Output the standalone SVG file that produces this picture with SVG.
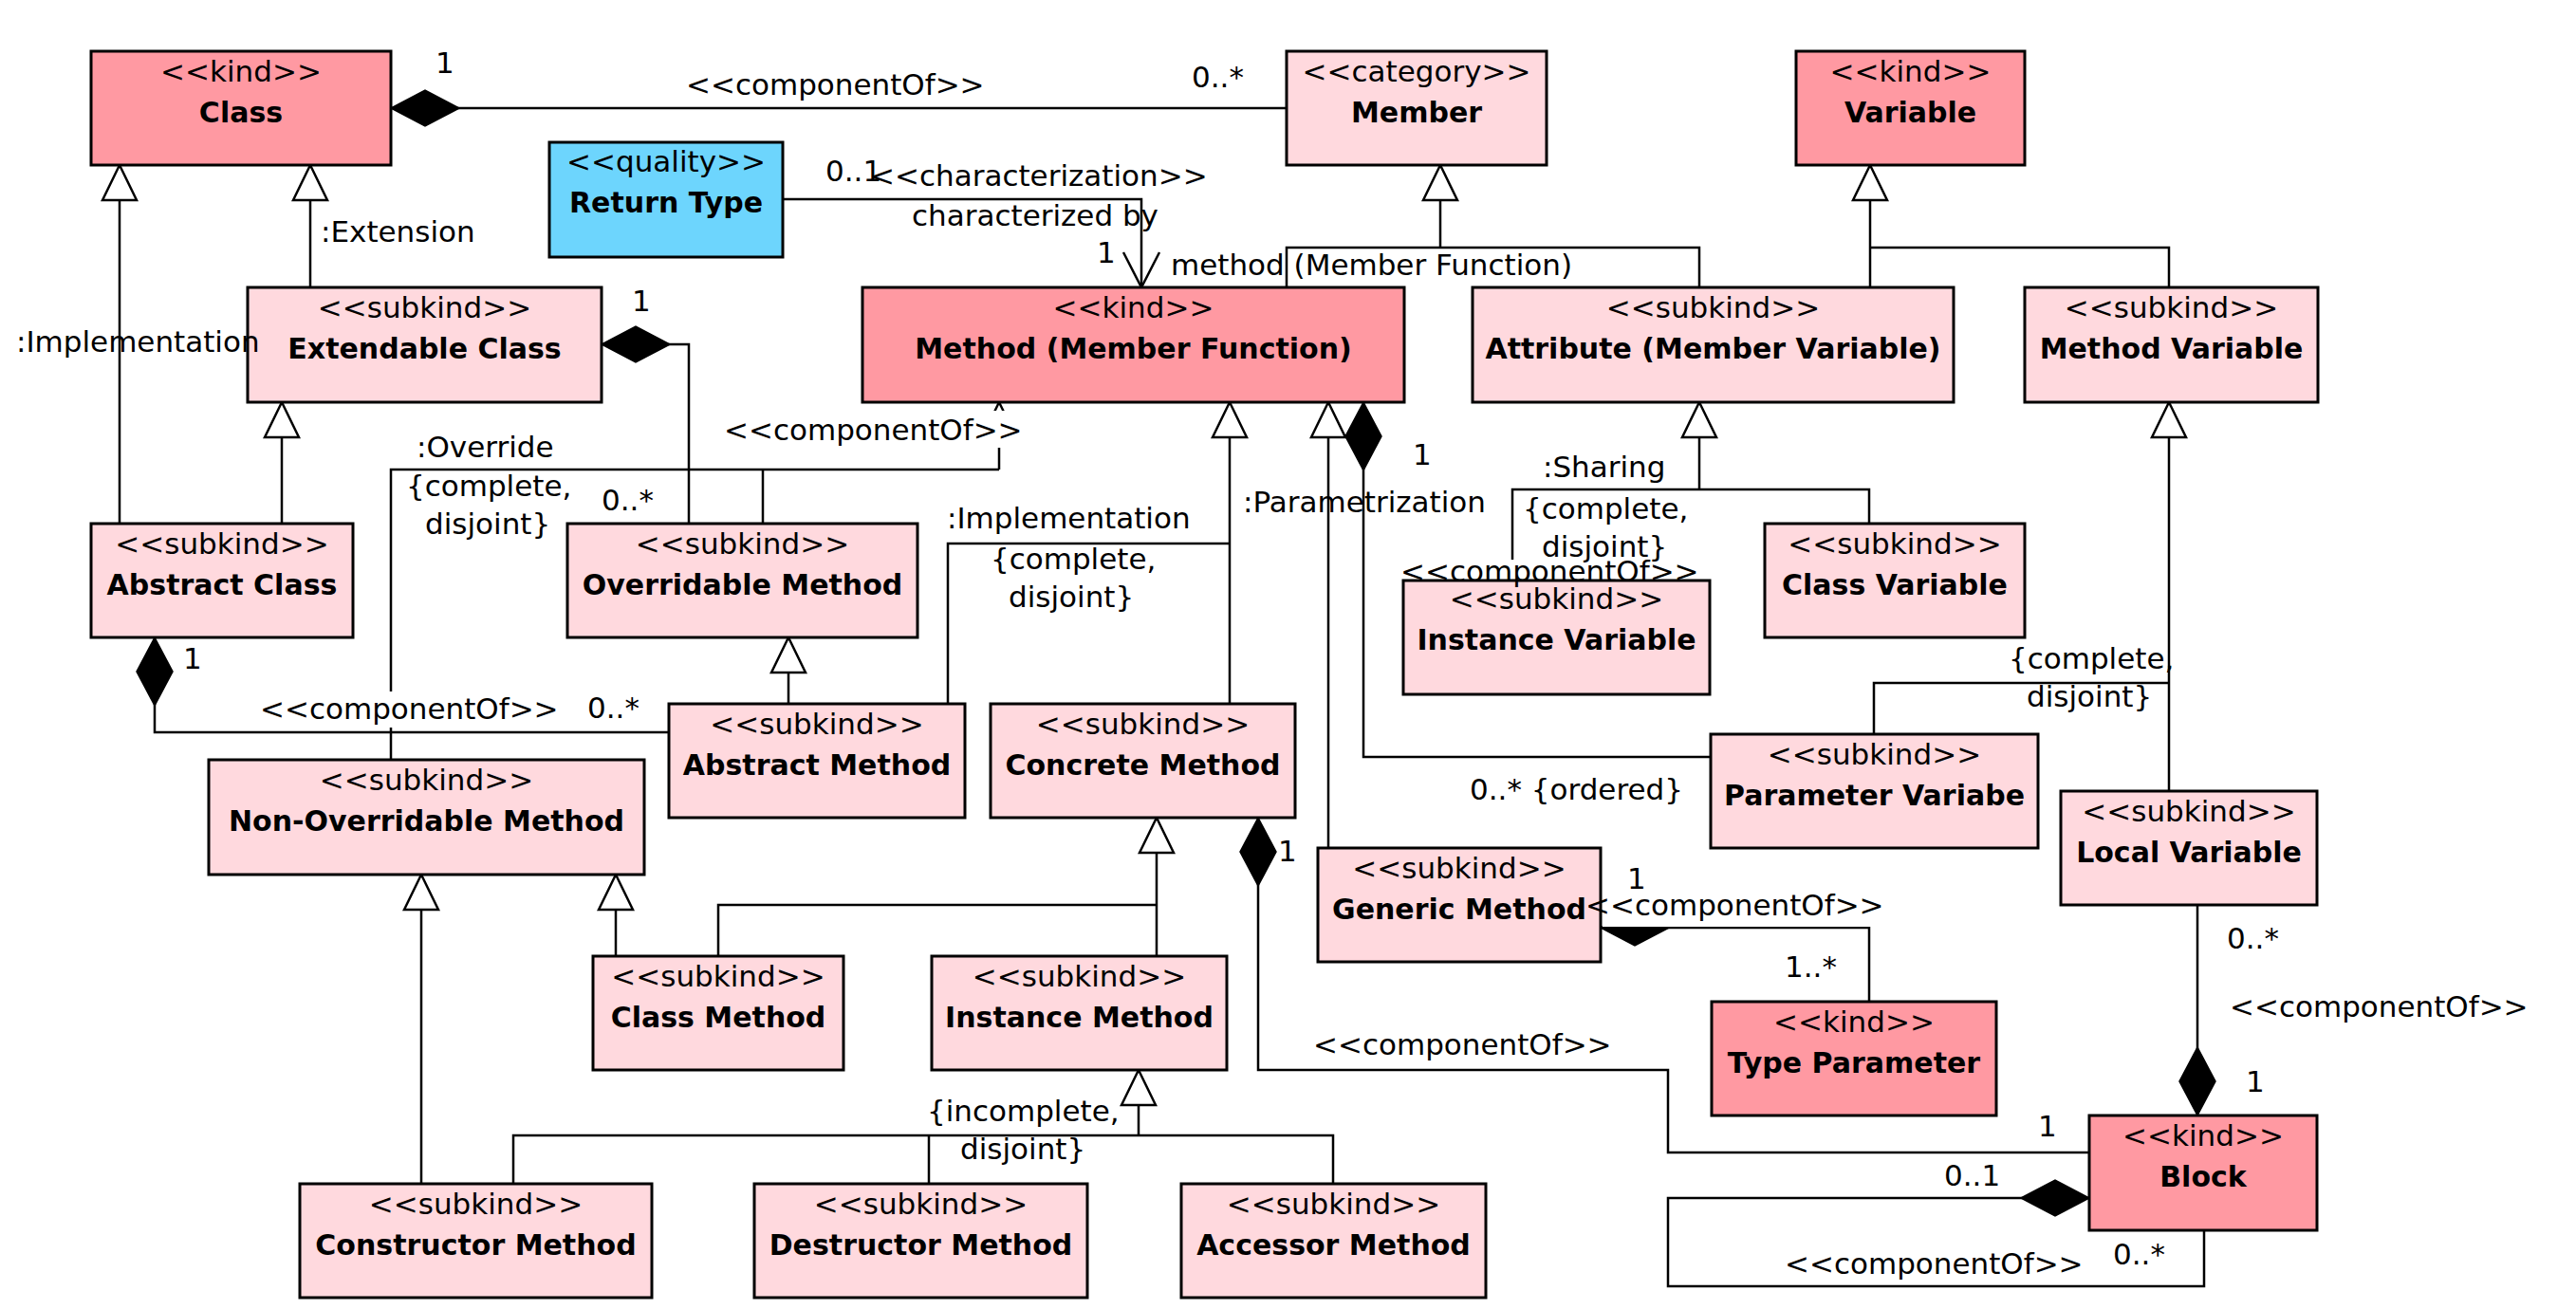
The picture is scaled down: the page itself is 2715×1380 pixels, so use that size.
<svg xmlns="http://www.w3.org/2000/svg" width="2715" height="1380" viewBox="0 0 2715 1380">
<style>
.box{stroke:#000;stroke-width:3}
.kind{fill:#ff99a2}
.sub{fill:#ffd9de}
.qual{fill:#6dd5fd}
.st{font-family:"DejaVu Sans","Liberation Sans",sans-serif;font-size:31px;text-anchor:middle;fill:#000}
.nm{font-family:"DejaVu Sans","Liberation Sans",sans-serif;font-size:30px;font-weight:bold;text-anchor:middle;fill:#000}
.lb{font-family:"DejaVu Sans","Liberation Sans",sans-serif;font-size:31px;fill:#000}
.c{fill:none;stroke:#000;stroke-width:2.5}
.bg{fill:#fff}
</style>
<defs>
<marker id="tri" markerUnits="userSpaceOnUse" markerWidth="40" markerHeight="40" refX="37" refY="0" orient="auto" overflow="visible">
<path d="M0,-18 L37,0 L0,18 Z" fill="#fff" stroke="#000" stroke-width="2.5"/>
</marker>
<marker id="dia" markerUnits="userSpaceOnUse" markerWidth="75" markerHeight="40" refX="72" refY="0" orient="auto" overflow="visible">
<path d="M0,0 L36,-19 L72,0 L36,19 Z" fill="#000" stroke="#000" stroke-width="1.5"/>
</marker>
<marker id="open" markerUnits="userSpaceOnUse" markerWidth="40" markerHeight="40" refX="37" refY="0" orient="auto" overflow="visible">
<path d="M0,-19 L37,0 L0,19" fill="none" stroke="#000" stroke-width="2.5"/>
</marker>
</defs>
<rect width="2715" height="1380" fill="#fff"/>
<g id="connectors">
<path class="c" d="M126,552 V174" marker-end="url(#tri)"/>
<path class="c" d="M327,303 V174" marker-end="url(#tri)"/>
<path class="c" d="M297,552 V424" marker-end="url(#tri)"/>
<path class="c" d="M1518,261 V174" marker-end="url(#tri)"/>
<path class="c" d="M1356,303 V261 H1791 V303"/>
<path class="c" d="M1971,303 V174" marker-end="url(#tri)"/>
<path class="c" d="M1971,261 H2286 V303"/>
<path class="c" d="M1053,495 V424" marker-end="url(#tri)"/>
<path class="c" d="M412,801 V495 H1053"/>
<path class="c" d="M804,495 V552"/>
<path class="c" d="M1296,742 V424" marker-end="url(#tri)"/>
<path class="c" d="M999,742 V573 H1296"/>
<path class="c" d="M1400,894 V424" marker-end="url(#tri)"/>
<path class="c" d="M831,742 V672" marker-end="url(#tri)"/>
<path class="c" d="M1791,516 V424" marker-end="url(#tri)"/>
<path class="c" d="M1594,590 V516 H1970 V552"/>
<path class="c" d="M2286,834 V424" marker-end="url(#tri)"/>
<path class="c" d="M1975,774 V720 H2286"/>
<path class="c" d="M444,1248 V922" marker-end="url(#tri)"/>
<path class="c" d="M649,1008 V922" marker-end="url(#tri)"/>
<path class="c" d="M1219,1008 V862" marker-end="url(#tri)"/>
<path class="c" d="M757,1008 V954 H1219"/>
<path class="c" d="M1200,1197 V1128" marker-end="url(#tri)"/>
<path class="c" d="M541,1248 V1197 H1405 V1248"/>
<path class="c" d="M979,1197 V1248"/>
<path class="c" d="M1356,114 H412" marker-end="url(#dia)"/>
<path class="c" d="M726,552 V363 H634" marker-end="url(#dia)"/>
<path class="c" d="M705,772 H163 V672" marker-end="url(#dia)"/>
<path class="c" d="M1803,798 H1437 V424" marker-end="url(#dia)"/>
<path class="c" d="M2202,1215 H1758 V1128 H1326 V862" marker-end="url(#dia)"/>
<path class="c" d="M1970,1056 V978 H1687" marker-end="url(#dia)"/>
<path class="c" d="M2316,954 V1176" marker-end="url(#dia)"/>
<path class="c" d="M2323,1297 V1356 H1758 V1263 H2202" marker-end="url(#dia)"/>
<path class="c" d="M825,210 H1203 V303" marker-end="url(#open)"/>
</g>
<g id="node-class"><rect class="box kind" x="96" y="54" width="316" height="120"/><text class="st" x="254" y="86">&lt;&lt;kind&gt;&gt;</text><text class="nm" x="254" y="129">Class</text></g>
<g id="node-member"><rect class="box sub" x="1356" y="54" width="274" height="120"/><text class="st" x="1493" y="86">&lt;&lt;category&gt;&gt;</text><text class="nm" x="1493" y="129">Member</text></g>
<g id="node-variable"><rect class="box kind" x="1893" y="54" width="241" height="120"/><text class="st" x="2013.5" y="86">&lt;&lt;kind&gt;&gt;</text><text class="nm" x="2013.5" y="129">Variable</text></g>
<g id="node-return-type"><rect class="box qual" x="579" y="150" width="246" height="121"/><text class="st" x="702" y="181">&lt;&lt;quality&gt;&gt;</text><text class="nm" x="702" y="224">Return Type</text></g>
<g id="node-extendable-class"><rect class="box sub" x="261" y="303" width="373" height="121"/><text class="st" x="447.5" y="335">&lt;&lt;subkind&gt;&gt;</text><text class="nm" x="447.5" y="378">Extendable Class</text></g>
<g id="node-method"><rect class="box kind" x="909" y="303" width="571" height="121"/><text class="st" x="1194.5" y="335">&lt;&lt;kind&gt;&gt;</text><text class="nm" x="1194.5" y="378">Method (Member Function)</text></g>
<g id="node-attribute"><rect class="box sub" x="1552" y="303" width="507" height="121"/><text class="st" x="1805.5" y="335">&lt;&lt;subkind&gt;&gt;</text><text class="nm" x="1805.5" y="378">Attribute (Member Variable)</text></g>
<g id="node-method-variable"><rect class="box sub" x="2134" y="303" width="309" height="121"/><text class="st" x="2288.5" y="335">&lt;&lt;subkind&gt;&gt;</text><text class="nm" x="2288.5" y="378">Method Variable</text></g>
<g id="node-abstract-class"><rect class="box sub" x="96" y="552" width="276" height="120"/><text class="st" x="234" y="584">&lt;&lt;subkind&gt;&gt;</text><text class="nm" x="234" y="627">Abstract Class</text></g>
<g id="node-overridable-method"><rect class="box sub" x="598" y="552" width="369" height="120"/><text class="st" x="782.5" y="584">&lt;&lt;subkind&gt;&gt;</text><text class="nm" x="782.5" y="627">Overridable Method</text></g>
<g id="node-class-variable"><rect class="box sub" x="1860" y="552" width="274" height="120"/><text class="st" x="1997" y="584">&lt;&lt;subkind&gt;&gt;</text><text class="nm" x="1997" y="627">Class Variable</text></g>
<g id="node-instance-variable"><rect class="box sub" x="1479" y="612" width="323" height="120"/><text class="st" x="1640.5" y="642">&lt;&lt;subkind&gt;&gt;</text><text class="nm" x="1640.5" y="685">Instance Variable</text></g>
<g id="node-abstract-method"><rect class="box sub" x="705" y="742" width="312" height="120"/><text class="st" x="861" y="774">&lt;&lt;subkind&gt;&gt;</text><text class="nm" x="861" y="817">Abstract Method</text></g>
<g id="node-concrete-method"><rect class="box sub" x="1044" y="742" width="321" height="120"/><text class="st" x="1204.5" y="774">&lt;&lt;subkind&gt;&gt;</text><text class="nm" x="1204.5" y="817">Concrete Method</text></g>
<g id="node-non-overridable-method"><rect class="box sub" x="220" y="801" width="459" height="121"/><text class="st" x="449.5" y="833">&lt;&lt;subkind&gt;&gt;</text><text class="nm" x="449.5" y="876">Non-Overridable Method</text></g>
<g id="node-parameter-variabe"><rect class="box sub" x="1803" y="774" width="345" height="120"/><text class="st" x="1975.5" y="806">&lt;&lt;subkind&gt;&gt;</text><text class="nm" x="1975.5" y="849">Parameter Variabe</text></g>
<g id="node-local-variable"><rect class="box sub" x="2172" y="834" width="270" height="120"/><text class="st" x="2307" y="866">&lt;&lt;subkind&gt;&gt;</text><text class="nm" x="2307" y="909">Local Variable</text></g>
<g id="node-generic-method"><rect class="box sub" x="1389" y="894" width="298" height="120"/><text class="st" x="1538" y="926">&lt;&lt;subkind&gt;&gt;</text><text class="nm" x="1538" y="969">Generic Method</text></g>
<g id="node-class-method"><rect class="box sub" x="625" y="1008" width="264" height="120"/><text class="st" x="757" y="1040">&lt;&lt;subkind&gt;&gt;</text><text class="nm" x="757" y="1083">Class Method</text></g>
<g id="node-instance-method"><rect class="box sub" x="982" y="1008" width="311" height="120"/><text class="st" x="1137.5" y="1040">&lt;&lt;subkind&gt;&gt;</text><text class="nm" x="1137.5" y="1083">Instance Method</text></g>
<g id="node-type-parameter"><rect class="box kind" x="1804" y="1056" width="300" height="120"/><text class="st" x="1954" y="1088">&lt;&lt;kind&gt;&gt;</text><text class="nm" x="1954" y="1131">Type Parameter</text></g>
<g id="node-block"><rect class="box kind" x="2202" y="1176" width="240" height="121"/><text class="st" x="2322" y="1208">&lt;&lt;kind&gt;&gt;</text><text class="nm" x="2322" y="1251">Block</text></g>
<g id="node-constructor-method"><rect class="box sub" x="316" y="1248" width="371" height="120"/><text class="st" x="501.5" y="1280">&lt;&lt;subkind&gt;&gt;</text><text class="nm" x="501.5" y="1323">Constructor Method</text></g>
<g id="node-destructor-method"><rect class="box sub" x="795" y="1248" width="351" height="120"/><text class="st" x="970.5" y="1280">&lt;&lt;subkind&gt;&gt;</text><text class="nm" x="970.5" y="1323">Destructor Method</text></g>
<g id="node-accessor-method"><rect class="box sub" x="1245" y="1248" width="321" height="120"/><text class="st" x="1405.5" y="1280">&lt;&lt;subkind&gt;&gt;</text><text class="nm" x="1405.5" y="1323">Accessor Method</text></g>
<g id="connector-labels">
<rect class="bg" x="760" y="433" width="320" height="39"/>
<rect class="bg" x="272" y="729" width="318" height="38"/>
<rect class="bg" x="1689" y="937" width="296" height="40"/>
<text class="lb" x="459" y="77">1</text>
<text class="lb" x="723" y="100">&lt;&lt;componentOf&gt;&gt;</text>
<text class="lb" x="1256" y="92">0..*</text>
<text class="lb" x="870" y="191">0..1</text>
<text class="lb" x="917" y="196">&lt;&lt;characterization&gt;&gt;</text>
<text class="lb" x="961" y="238">characterized by</text>
<text class="lb" x="1156" y="277">1</text>
<text class="lb" x="1234" y="290">method (Member Function)</text>
<text class="lb" x="338" y="255">:Extension</text>
<text class="lb" x="17" y="371">:Implementation</text>
<text class="lb" x="666" y="328">1</text>
<text class="lb" x="439" y="482">:Override</text>
<text class="lb" x="428" y="523">{complete,</text>
<text class="lb" x="448" y="563">disjoint}</text>
<text class="lb" x="634" y="538">0..*</text>
<text class="lb" x="763" y="464">&lt;&lt;componentOf&gt;&gt;</text>
<text class="lb" x="193" y="705">1</text>
<text class="lb" x="274" y="758">&lt;&lt;componentOf&gt;&gt;</text>
<text class="lb" x="619" y="757">0..*</text>
<text class="lb" x="998" y="557">:Implementation</text>
<text class="lb" x="1044" y="600">{complete,</text>
<text class="lb" x="1063" y="640">disjoint}</text>
<text class="lb" x="1310" y="540">:Parametrization</text>
<text class="lb" x="1489" y="490">1</text>
<text class="lb" x="1626" y="503">:Sharing</text>
<text class="lb" x="1605" y="547">{complete,</text>
<text class="lb" x="1625" y="587">disjoint}</text>
<text class="lb" x="1476" y="613">&lt;&lt;componentOf&gt;&gt;</text>
<text class="lb" x="1549" y="843">0..* {ordered}</text>
<text class="lb" x="2117" y="705">{complete,</text>
<text class="lb" x="2136" y="745">disjoint}</text>
<text class="lb" x="1347" y="908">1</text>
<text class="lb" x="1715" y="937">1</text>
<text class="lb" x="1671" y="965">&lt;&lt;componentOf&gt;&gt;</text>
<text class="lb" x="1881" y="1030">1..*</text>
<text class="lb" x="1384" y="1112">&lt;&lt;componentOf&gt;&gt;</text>
<text class="lb" x="977" y="1182">{incomplete,</text>
<text class="lb" x="1012" y="1222">disjoint}</text>
<text class="lb" x="2347" y="1000">0..*</text>
<text class="lb" x="2350" y="1072">&lt;&lt;componentOf&gt;&gt;</text>
<text class="lb" x="2367" y="1151">1</text>
<text class="lb" x="2148" y="1198">1</text>
<text class="lb" x="2049" y="1250">0..1</text>
<text class="lb" x="1881" y="1343">&lt;&lt;componentOf&gt;&gt;</text>
<text class="lb" x="2227" y="1333">0..*</text>
</g>
</svg>
